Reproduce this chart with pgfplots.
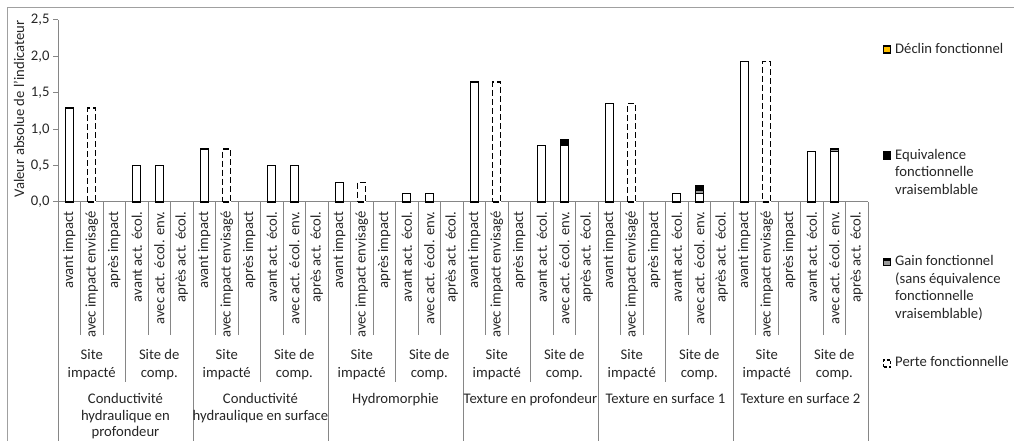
\documentclass[border=0pt]{standalone}
\usepackage{fontspec}
\setmainfont{Carlito}
\usepackage{pgfplots}
\pgfplotsset{compat=1.18}
\definecolor{txt}{HTML}{262626}
\definecolor{axisgray}{HTML}{868686}
\definecolor{framegray}{HTML}{A0A0A0}
\definecolor{declin}{HTML}{FFC000}
\definecolor{gaingray}{HTML}{9A9A9A}
\begin{document}
\begin{tikzpicture}[x=1pt,y=1pt,font=\fontsize{14.67}{17.9}\selectfont]
\useasboundingbox (0,0) rectangle (1014,441);
\draw[framegray, line width=1pt] (7,0) -- (7,433) -- (1014,433);
\begin{axis}[
  at={(58pt,239pt)}, anchor=south west,
  scale only axis, width=810pt, height=182pt,
  xmin=-0.5, xmax=35.5, ymin=0, ymax=2.5,
  axis x line*=bottom, axis y line*=left,
  x axis line style={-, draw=axisgray, line width=1pt},
  y axis line style={-, draw=axisgray, line width=1pt},
  xtick=\empty,
  ytick={0,0.5,1,1.5,2,2.5},
  tick align=outside, major tick length=5pt,
  ytick style={draw=axisgray, line width=1pt},
  yticklabel style={text=txt, font=\fontsize{14.67}{17.9}\selectfont,
    /pgf/number format/.cd, fixed, fixed zerofill, precision=1, use comma, assume math mode=true},
  every axis plot/.append style={ybar, bar width=8pt, bar shift=0pt, draw=black, line width=1.3pt},
  clip=false,
]
% Equivalence fonctionnelle vraisemblable (cumulative top)
\addplot[fill=black] coordinates {(22,0.85) (28,0.23)};
% Gain fonctionnel (cumulative top)
\addplot[fill=gaingray] coordinates {(28,0.16) (34,0.73)};
% base values
\addplot[fill=white] coordinates {(0,1.29) (3,0.50) (4,0.50) (6,0.73) (9,0.50) (10,0.50)
  (12,0.27) (15,0.12) (16,0.12) (18,1.65) (21,0.78) (22,0.78)
  (24,1.35) (27,0.12) (28,0.12) (30,1.93) (33,0.69) (34,0.69)};
% Perte fonctionnelle
\addplot[fill=white, dash pattern=on 6pt off 3pt] coordinates {(1,1.29) (7,0.73) (13,0.27) (19,1.65) (25,1.35) (31,1.93)};
\end{axis}
% separators
\foreach \g in {0,...,6} \draw[axisgray, line width=1pt] ({58+135*\g},239) -- ({58+135*\g},0);
\foreach \s in {0,...,5} \draw[axisgray, line width=1pt] ({125.5+135*\s},239) -- ({125.5+135*\s},59);
\foreach \t in {0,...,11} {
  \draw[axisgray, line width=1pt] ({80.5+67.5*\t},239) -- ({80.5+67.5*\t},106);
  \draw[axisgray, line width=1pt] ({103+67.5*\t},239) -- ({103+67.5*\t},106);
}
% level 1 labels
\foreach \g in {0,...,5} {
  \foreach \t [count=\k from 0] in {avant impact, avec impact envisagé, après impact, avant act. écol., avec act. écol. env., après act. écol.} {
    \node[rotate=90, anchor=east, inner sep=0pt, text=txt] at ({69.25+22.5*(6*\g+\k)}, 229.5) {\t};
  }
}
% level 2 labels
\foreach \s in {0,...,5} {
  \node[anchor=base, inner sep=0pt, text=txt] at ({91.75+135*\s}, 81) {Site};
  \node[anchor=base, inner sep=0pt, text=txt] at ({91.75+135*\s}, 63.5) {impacté};
  \node[anchor=base, inner sep=0pt, text=txt] at ({159.25+135*\s}, 81) {Site de};
  \node[anchor=base, inner sep=0pt, text=txt] at ({159.25+135*\s}, 63.5) {comp.};
}
% level 3 labels
\node[anchor=base, inner sep=0pt, text=txt] at (125.5, 37) {Conductivité};
\node[anchor=base, inner sep=0pt, text=txt] at (125.5, 20.5) {hydraulique en};
\node[anchor=base, inner sep=0pt, text=txt] at (125.5, 4) {profondeur};
\node[anchor=base, inner sep=0pt, text=txt] at (260.5, 37) {Conductivité};
\node[anchor=base, inner sep=0pt, text=txt] at (260.5, 20.5) {hydraulique en surface};
\node[anchor=base, inner sep=0pt, text=txt] at (395.5, 37) {Hydromorphie};
\node[anchor=base, inner sep=0pt, text=txt] at (530.5, 37) {Texture en profondeur};
\node[anchor=base, inner sep=0pt, text=txt] at (665.5, 37) {Texture en surface 1};
\node[anchor=base, inner sep=0pt, text=txt] at (800.5, 37) {Texture en surface 2};
% y label
\node[rotate=90, inner sep=0pt, text=txt] at (19, 332) {Valeur absolue de l'indicateur};
% legend
\draw[black, line width=1.2pt, fill=declin] (883.5,388) rectangle (890.5,395);
\node[anchor=base west, inner sep=0pt, text=txt] at (895, 387.5) {Déclin fonctionnel};
\draw[black, line width=1.2pt, fill=black] (883.5,282) rectangle (890.5,289);
\node[anchor=base west, inner sep=0pt, text=txt] at (895, 281.7) {Equivalence};
\node[anchor=base west, inner sep=0pt, text=txt] at (895, 264.3) {fonctionnelle};
\node[anchor=base west, inner sep=0pt, text=txt] at (895, 246.9) {vraisemblable};
\draw[black, line width=1.2pt, fill=gaingray] (883.5,175.5) rectangle (890.5,182.5);
\fill[black] (883.5,180) rectangle (890.5,182.5);
\node[anchor=base west, inner sep=0pt, text=txt] at (895, 175.3) {Gain fonctionnel};
\node[anchor=base west, inner sep=0pt, text=txt] at (895, 157.8) {(sans équivalence};
\node[anchor=base west, inner sep=0pt, text=txt] at (895, 140.3) {fonctionnelle};
\node[anchor=base west, inner sep=0pt, text=txt] at (895, 122.8) {vraisemblable)};
\draw[black, line width=1.2pt, dash pattern=on 3pt off 2pt] (883.5,74) rectangle (890.5,81);
\node[anchor=base west, inner sep=0pt, text=txt] at (895, 74) {Perte fonctionnelle};
\end{tikzpicture}
\end{document}
